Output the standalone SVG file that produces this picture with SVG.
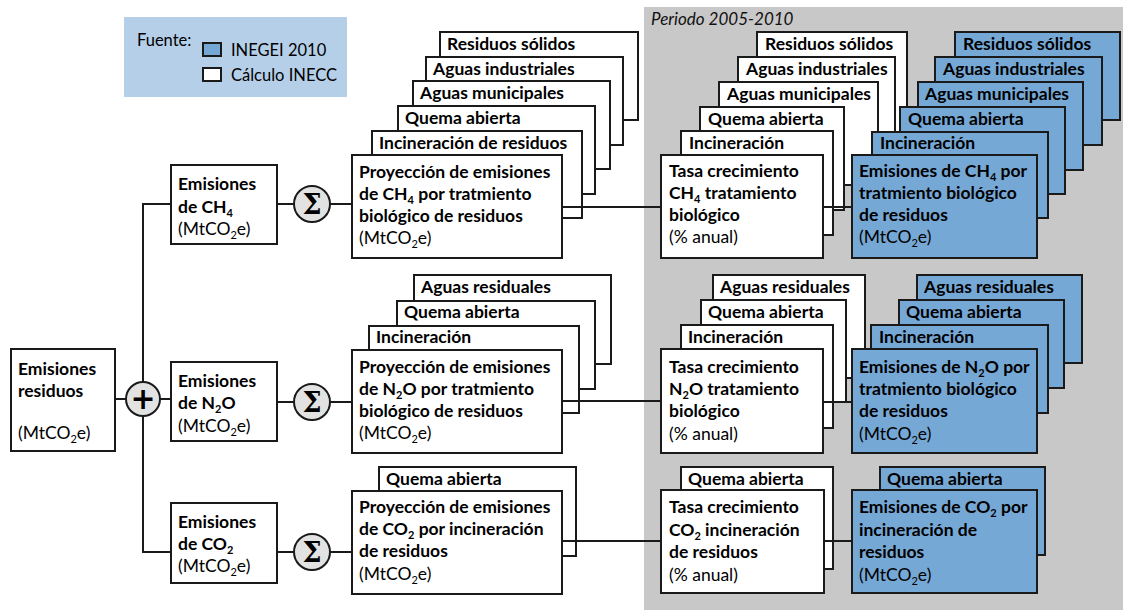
<svg xmlns="http://www.w3.org/2000/svg" width="1123" height="610" viewBox="0 0 1123 610">
<style>
.w{fill:#fff;stroke:#1a1a1a;stroke-width:2}
.bl{fill:#76A8D6;stroke:#1a1a1a;stroke-width:2}
.t{font-family:Lato,"Open Sans",sans-serif;font-size:17.5px;font-weight:bold;fill:#000}
.r{font-weight:normal}
.c{stroke:#1a1a1a;stroke-width:2;fill:none}
.op{fill:#e2e2e2;stroke:#1a1a1a;stroke-width:2}
.s{font-size:11px}
.sg{font-family:"DejaVu Serif",serif;font-size:27px;font-weight:bold;fill:#000}
</style>
<rect x="644" y="7" width="479" height="603" fill="#c8c8c8"/>
<text x="651" y="25" style="font-family:Lato,'Open Sans',sans-serif;font-size:17px;font-style:italic;fill:#111">Periodo 2005-2010</text>

<g id="legend">
<rect x="124" y="17" width="223" height="80" fill="#b5cfe8"/>
<text x="137" y="46" class="t r" style="font-size:16.5px">Fuente:</text>
<rect x="203" y="43" width="18" height="13" class="bl" stroke-width="1.5"/>
<text x="231" y="56" class="t r" style="font-size:16.5px">INEGEI 2010</text>
<rect x="203" y="68" width="18" height="13" class="w" stroke-width="1.5"/>
<text x="231" y="81" class="t r" style="font-size:16.5px">Cálculo INECC</text>
</g>

<g id="emisiones-residuos">
<rect x="11" y="349" width="104" height="102" class="w"/>
<text class="t" x="18" y="375">Emisiones</text>
<text class="t" x="18" y="397">residuos</text>
<text class="t r" x="18" y="439">(MtCO<tspan class="s" dy="4">2</tspan><tspan dy="-4">e)</tspan></text>
</g>
<g id="suma">
<circle cx="143" cy="399" r="17" class="op"/>
<text x="143" y="409" text-anchor="middle" style="font-family:'DejaVu Sans',sans-serif;font-size:30px;font-weight:bold;fill:#000">+</text>
</g>

<g id="emisiones-ch4">
<rect x="171" y="165" width="106" height="79" class="w"/>
<text class="t" x="178" y="190">Emisiones</text>
<text class="t" x="178" y="213">de CH<tspan class="s" dy="4">4</tspan></text>
<text class="t r" x="178" y="235">(MtCO<tspan class="s" dy="4">2</tspan><tspan dy="-4">e)</tspan></text>
</g>
<g id="emisiones-n2o">
<rect x="171" y="362" width="106" height="79" class="w"/>
<text class="t" x="178" y="387">Emisiones</text>
<text class="t" x="178" y="409">de N<tspan class="s" dy="4">2</tspan><tspan dy="-4">O</tspan></text>
<text class="t r" x="178" y="432">(MtCO<tspan class="s" dy="4">2</tspan><tspan dy="-4">e)</tspan></text>
</g>
<g id="emisiones-co2">
<rect x="171" y="503" width="106" height="80" class="w"/>
<text class="t" x="178" y="528">Emisiones</text>
<text class="t" x="178" y="550">de CO<tspan class="s" dy="4">2</tspan></text>
<text class="t r" x="178" y="572">(MtCO<tspan class="s" dy="4">2</tspan><tspan dy="-4">e)</tspan></text>
</g>

<g id="sigma-ch4"><circle cx="312" cy="204" r="18" class="op"/><text x="312" y="214" text-anchor="middle" class="sg">Σ</text></g>
<g id="sigma-n2o"><circle cx="312" cy="402" r="18" class="op"/><text x="312" y="412" text-anchor="middle" class="sg">Σ</text></g>
<g id="sigma-co2"><circle cx="312" cy="552" r="18" class="op"/><text x="312" y="562" text-anchor="middle" class="sg">Σ</text></g>

<g id="proy-ch4">
<rect x="440" y="32" width="198" height="88" class="w"/><text class="t" x="447" y="50">Residuos sólidos</text>
<rect x="426" y="57" width="197" height="88" class="w"/><text class="t" x="433" y="75">Aguas industriales</text>
<rect x="413" y="81" width="197" height="88" class="w"/><text class="t" x="420" y="99">Aguas municipales</text>
<rect x="398" y="106" width="197" height="88" class="w"/><text class="t" x="405" y="124">Quema abierta</text>
<rect x="372" y="131" width="210" height="87" class="w"/><text class="t" x="379" y="149">Incineración de residuos</text>
<rect x="352" y="155" width="210" height="103" class="w"/>
<text class="t" x="359" y="178">Proyección de emisiones</text>
<text class="t" x="359" y="200">de CH<tspan class="s" dy="4">4</tspan><tspan dy="-4"> por tratmiento</tspan></text>
<text class="t" x="359" y="222">biológico de residuos</text>
<text class="t r" x="359" y="244">(MtCO<tspan class="s" dy="4">2</tspan><tspan dy="-4">e)</tspan></text>
</g>

<g id="proy-n2o">
<rect x="414" y="275" width="197" height="89" class="w"/><text class="t" x="421" y="293">Aguas residuales</text>
<rect x="397" y="301" width="198" height="88" class="w"/><text class="t" x="404" y="318">Quema abierta</text>
<rect x="369" y="326" width="210" height="87" class="w"/><text class="t" x="376" y="343">Incineración</text>
<rect x="352" y="350" width="210" height="103" class="w"/>
<text class="t" x="359" y="373">Proyección de emisiones</text>
<text class="t" x="359" y="395">de N<tspan class="s" dy="4">2</tspan><tspan dy="-4">O por tratmiento</tspan></text>
<text class="t" x="359" y="417">biológico de residuos</text>
<text class="t r" x="359" y="439">(MtCO<tspan class="s" dy="4">2</tspan><tspan dy="-4">e)</tspan></text>
</g>

<g id="proy-co2">
<rect x="379" y="467" width="197" height="89" class="w"/><text class="t" x="386" y="485">Quema abierta</text>
<rect x="352" y="491" width="210" height="103" class="w"/>
<text class="t" x="359" y="513">Proyección de emisiones</text>
<text class="t" x="359" y="535">de CO<tspan class="s" dy="4">2</tspan><tspan dy="-4"> por incineración</tspan></text>
<text class="t" x="359" y="557">de residuos</text>
<text class="t r" x="359" y="580">(MtCO<tspan class="s" dy="4">2</tspan><tspan dy="-4">e)</tspan></text>
</g>

<g id="tasa-ch4">
<rect x="757" y="32" width="150" height="103" class="w"/><text class="t" x="765" y="50">Residuos sólidos</text>
<rect x="738" y="57" width="157" height="103" class="w"/><text class="t" x="746" y="75">Aguas industriales</text>
<rect x="719" y="82" width="159" height="103" class="w"/><text class="t" x="727" y="100">Aguas municipales</text>
<rect x="700" y="107" width="144" height="103" class="w"/><text class="t" x="708" y="125">Quema abierta</text>
<rect x="681" y="131" width="152" height="104" class="w"/><text class="t" x="689" y="149">Incineración</text>
<rect x="661" y="155" width="162" height="103" class="w"/>
<text class="t" x="669" y="177">Tasa crecimiento</text>
<text class="t" x="669" y="199">CH<tspan class="s" dy="4">4</tspan><tspan dy="-4"> tratamiento</tspan></text>
<text class="t" x="669" y="221">biológico</text>
<text class="t r" x="669" y="243">(% anual)</text>
</g>

<g id="inegei-ch4">
<rect x="955" y="32" width="165" height="88" class="bl"/><text class="t" x="963" y="50">Residuos sólidos</text>
<rect x="935" y="57" width="167" height="88" class="bl"/><text class="t" x="943" y="75">Aguas industriales</text>
<rect x="918" y="82" width="165" height="88" class="bl"/><text class="t" x="925" y="100">Aguas municipales</text>
<rect x="900" y="107" width="165" height="87" class="bl"/><text class="t" x="908" y="125">Quema abierta</text>
<rect x="872" y="132" width="176" height="86" class="bl"/><text class="t" x="880" y="149">Incineración</text>
<rect x="852" y="155" width="185" height="103" class="bl"/>
<text class="t" x="859" y="177">Emisiones de CH<tspan class="s" dy="4">4</tspan><tspan dy="-4"> por</tspan></text>
<text class="t" x="859" y="199">tratmiento biológico</text>
<text class="t" x="859" y="221">de residuos</text>
<text class="t r" x="859" y="243">(MtCO<tspan class="s" dy="4">2</tspan><tspan dy="-4">e)</tspan></text>
</g>

<g id="tasa-n2o">
<rect x="713" y="275" width="152" height="103" class="w"/><text class="t" x="720" y="293">Aguas residuales</text>
<rect x="701" y="300" width="145" height="102" class="w"/><text class="t" x="708" y="318">Quema abierta</text>
<rect x="681" y="325" width="152" height="103" class="w"/><text class="t" x="688" y="343">Incineración</text>
<rect x="661" y="349" width="162" height="104" class="w"/>
<text class="t" x="669" y="373">Tasa crecimiento</text>
<text class="t" x="669" y="395">N<tspan class="s" dy="4">2</tspan><tspan dy="-4">O tratamiento</tspan></text>
<text class="t" x="669" y="417">biológico</text>
<text class="t r" x="669" y="440">(% anual)</text>
</g>

<g id="inegei-n2o">
<rect x="917" y="275" width="165" height="88" class="bl"/><text class="t" x="924" y="293">Aguas residuales</text>
<rect x="899" y="300" width="165" height="88" class="bl"/><text class="t" x="906" y="318">Quema abierta</text>
<rect x="871" y="325" width="177" height="88" class="bl"/><text class="t" x="879" y="343">Incineración</text>
<rect x="852" y="349" width="185" height="104" class="bl"/>
<text class="t" x="859" y="373">Emisiones de N<tspan class="s" dy="4">2</tspan><tspan dy="-4">O por</tspan></text>
<text class="t" x="859" y="395">tratmiento biológico</text>
<text class="t" x="859" y="417">de residuos</text>
<text class="t r" x="859" y="440">(MtCO<tspan class="s" dy="4">2</tspan><tspan dy="-4">e)</tspan></text>
</g>

<g id="tasa-co2">
<rect x="681" y="467" width="152" height="102" class="w"/><text class="t" x="688" y="485">Quema abierta</text>
<rect x="661" y="490" width="163" height="103" class="w"/>
<text class="t" x="669" y="513">Tasa crecimiento</text>
<text class="t" x="669" y="536">CO<tspan class="s" dy="4">2</tspan><tspan dy="-4"> incineración</tspan></text>
<text class="t" x="669" y="558">de residuos</text>
<text class="t r" x="669" y="581">(% anual)</text>
</g>

<g id="inegei-co2">
<rect x="880" y="467" width="165" height="88" class="bl"/><text class="t" x="887" y="485">Quema abierta</text>
<rect x="852" y="490" width="185" height="103" class="bl"/>
<text class="t" x="859" y="513">Emisiones de CO<tspan class="s" dy="4">2</tspan><tspan dy="-4"> por</tspan></text>
<text class="t" x="859" y="536">incineración de</text>
<text class="t" x="859" y="558">residuos</text>
<text class="t r" x="859" y="581">(MtCO<tspan class="s" dy="4">2</tspan><tspan dy="-4">e)</tspan></text>
</g>

<g id="connectors" class="c">
<path d="M115,399H126M160,399H171"/>
<path d="M171,204H143V382M143,416V552H171"/>
<path d="M277,204H294M330,204H352M277,402H294M330,402H352M277,552H294M330,552H352"/>
<path d="M562,207H661M823,207H852"/>
<path d="M562,401H661M823,402H852"/>
<path d="M562,541H661M824,541H852"/>
</g>
</svg>
